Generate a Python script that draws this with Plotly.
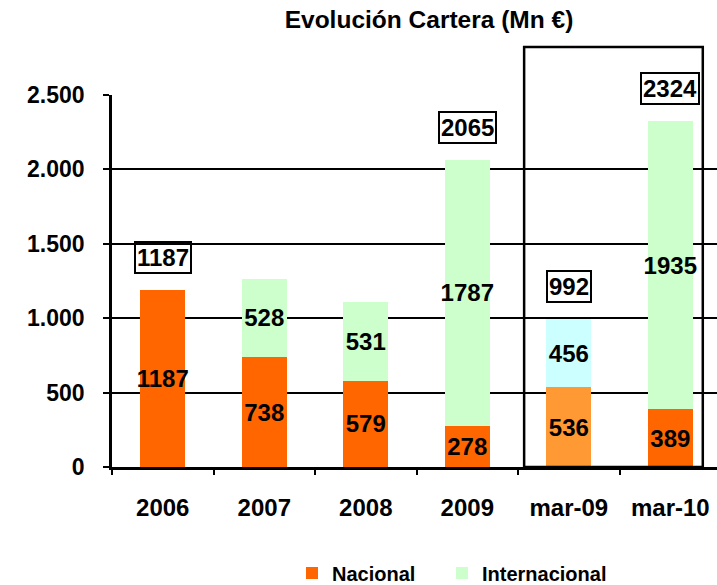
import plotly.graph_objects as go

categories = ["2006", "2007", "2008", "2009", "mar-09", "mar-10"]
nacional = [1187, 738, 579, 278, 536, 389]
internacional = [0, 528, 531, 1787, 456, 1935]
totales = [1187, None, None, 2065, 992, 2324]
ytick_vals = [0, 500, 1000, 1500, 2000, 2500]

col_nac = ["#FF6600", "#FF6600", "#FF6600", "#FF6600", "#FF9933", "#FF6600"]
col_int = ["#CCFFCC", "#CCFFCC", "#CCFFCC", "#CCFFCC", "#CCFFFF", "#CCFFCC"]

FONT = "Liberation Sans, Arial, sans-serif"

fig = go.Figure()
fig.add_trace(go.Bar(
    name="Nacional", x=categories, y=nacional,
    marker=dict(color=col_nac, line=dict(width=0)),
    text=[str(v) if v else "" for v in nacional],
    textposition="inside", insidetextanchor="middle", textangle=0,
    constraintext="none",
    textfont=dict(family=FONT, size=24, color="black", weight="bold"),
    width=0.44, legend="legend",
))
fig.add_trace(go.Bar(
    name="Internacional", x=categories, y=internacional,
    marker=dict(color=col_int, line=dict(width=0)),
    text=[str(v) if v else "" for v in internacional],
    textposition="inside", insidetextanchor="middle", textangle=0,
    constraintext="none",
    textfont=dict(family=FONT, size=24, color="black", weight="bold"),
    width=0.44, legend="legend2",
))

for i, t in enumerate(totales):
    if t is None:
        continue
    fig.add_annotation(
        x=i, y=t, xref="x", yref="y", text=str(t), showarrow=False,
        yanchor="bottom", yshift=16,
        font=dict(family=FONT, size=24, color="black", weight="bold"),
        bordercolor="black", borderwidth=2, borderpad=1,
    )

# highlight box around the quarterly comparison
fig.add_shape(type="rect", xref="x", yref="paper",
              x0=3.56, x1=5.32, y0=0, y1=1.129,
              line=dict(color="black", width=2.5), fillcolor="rgba(0,0,0,0)",
              layer="above")

legend_font = dict(family=FONT, size=20, color="black", weight="bold")

fig.update_layout(
    width=717, height=585,
    barmode="stack",
    separators=",.",
    paper_bgcolor="white", plot_bgcolor="white",
    margin=dict(l=112, r=0, t=95, b=118, autoexpand=False),
    font=dict(family=FONT, color="black"),
    title=dict(text="Evolución Cartera (Mn €)", x=429/717, xanchor="center",
               y=1 - 19/585, yanchor="middle",
               font=dict(family=FONT, size=24.5, color="black", weight="bold")),
    showlegend=True,
    legend=dict(orientation="h",
                x=(292 - 112) / 605, xanchor="left",
                y=(467 - 573) / 372, yanchor="middle",
                font=legend_font, itemwidth=30),
    legend2=dict(orientation="h",
                 x=(442 - 112) / 605, xanchor="left",
                 y=(467 - 573) / 372, yanchor="middle",
                 font=legend_font, itemwidth=30),
    xaxis=dict(
        type="category", range=[-0.5, 5.46], automargin=False,
        showline=True, linecolor="black", linewidth=2.5,
        ticks="outside", tickson="boundaries", ticklen=5, tickwidth=1.5,
        tickcolor="black", ticklabelstandoff=17,
        tickfont=dict(family=FONT, size=24, color="black", weight="bold"),
        showgrid=False, zeroline=False,
    ),
    yaxis=dict(
        range=[0, 2500], tickvals=ytick_vals, tickformat=",d", automargin=False,
        showline=True, linecolor="black", linewidth=2.5,
        ticks="outside", ticklen=6, tickwidth=1.5, tickcolor="black",
        ticklabelstandoff=14,
        tickfont=dict(family=FONT, size=23, color="black", weight="bold"),
        showgrid=True, gridcolor="black", gridwidth=1.5,
        zeroline=False,
    ),
)

fig.write_html("out.html",
               config={"displayModeBar": False},
               post_script="document.body.style.margin='0';document.body.style.overflow='hidden';")
